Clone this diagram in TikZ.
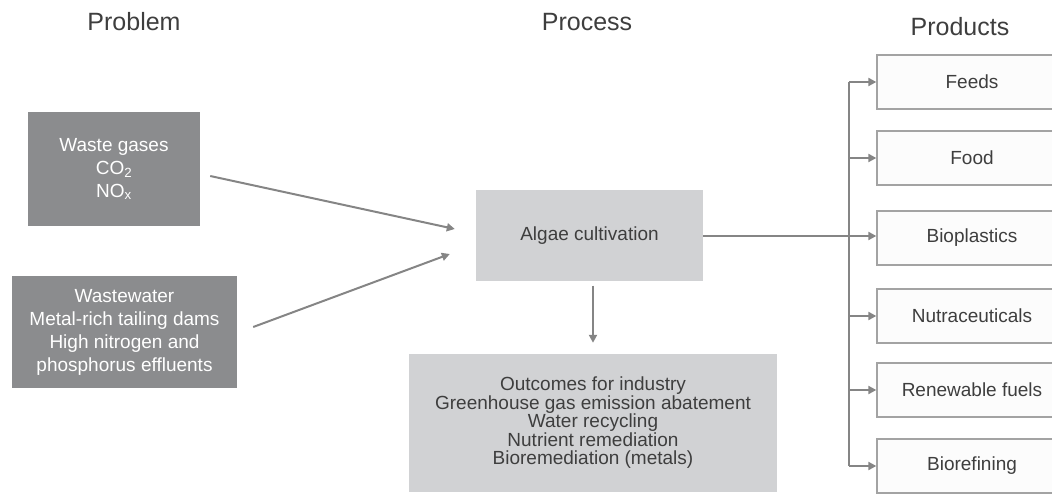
\documentclass[tikz,border=0pt]{standalone}
\usepackage{fontspec}
\setmainfont{Liberation Sans}
\usetikzlibrary{arrows.meta,calc}
\definecolor{darkbox}{HTML}{8B8C8E}
\definecolor{lightbox}{HTML}{D1D2D4}
\definecolor{prodline}{HTML}{A3A3A3}
\definecolor{prodfill}{HTML}{FCFCFC}
\definecolor{arrowgray}{HTML}{858585}
\definecolor{textgray}{HTML}{3E3E3E}
\begin{document}
\begin{tikzpicture}[x=1pt,y=-1pt,
  header/.style={text=textgray, font=\fontsize{25}{29}\selectfont, inner sep=0},
  darknode/.style={fill=darkbox, draw=none, text=white, align=center, inner sep=0,
     font=\fontsize{19}{23}\selectfont},
  lightnode/.style={fill=lightbox, draw=none, text=textgray, align=center, inner sep=0,
     font=\fontsize{19}{18.5}\selectfont},
  prodnode/.style={fill=prodfill, draw=prodline, line width=1.3pt, text=textgray,
     inner sep=0, minimum width=190, minimum height=54, font=\fontsize{19}{23}\selectfont},
  arr/.style={draw=arrowgray, line width=2pt, -{Triangle[length=8pt,width=8pt]}},
  plain/.style={draw=arrowgray, line width=2pt}
]
\useasboundingbox (0,0) rectangle (1052,494);

% headers
\node[header] (hprob) at (134,22) {Problem};
\node[header] (hproc) at (587,22) {Process};
\node[header] (hprod) at (960,27) {Products};

% problem boxes
\node[darknode, minimum width=172, minimum height=114] (waste) at (114,169)
  {Waste gases\\CO\textsubscript{2}\\NO\textsubscript{x}};
\node[darknode, minimum width=225, minimum height=112] (ww) at (124.5,332)
  {Wastewater\\Metal-rich tailing dams\\High nitrogen and\\phosphorus effluents};

% process
\node[lightnode, minimum width=227, minimum height=91] (algae) at (589.5,236) {Algae cultivation};
\node[lightnode, minimum width=368, minimum height=138] (out) at (593,423)
  {Outcomes for industry\\Greenhouse gas emission abatement\\Water recycling\\Nutrient remediation\\Bioremediation (metals)};

% products
\node[prodnode] (feeds) at (972,82) {Feeds};
\node[prodnode] (food) at (972,158) {Food};
\node[prodnode] (bio) at (972,238) {Bioplastics};
\node[prodnode] (nutra) at (972,316) {Nutraceuticals};
\node[prodnode] (fuels) at (972,390) {Renewable fuels};
\node[prodnode] (refin) at (972,466) {Biorefining};

% connectors
\draw[arr] ([shift={(10,7)}]waste.east) -- ([shift={(-21,-7)}]algae.west);
\draw[arr] ([shift={(16,-5)}]ww.east) -- ([shift={(-26,18)}]algae.west);
\draw[arr] ([shift={(3.5,4)}]algae.south) -- ([shift={(0,-11)}]out.north);

\coordinate (bt) at (849,82);
\coordinate (bb) at (849,466);
\draw[plain] (bt) -- (bb);
\draw[arr] (algae.east) -- (algae.east -| bio.west);
\foreach \p in {feeds,food,nutra,fuels,refin}{
  \draw[arr] (bt |- \p.west) -- (\p.west);
}
\end{tikzpicture}
\end{document}
